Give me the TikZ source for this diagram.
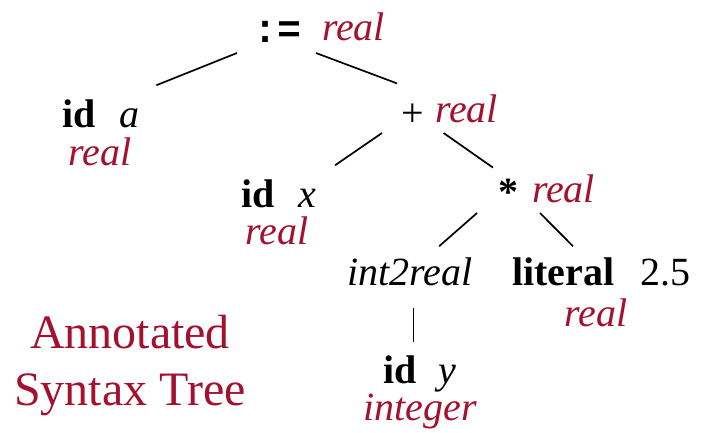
\documentclass[tikz,border=0pt]{standalone}
\usepackage{fontspec}
\setmainfont{Liberation Serif}
\setmonofont{Liberation Mono}
\usepackage{xcolor}
\usetikzlibrary{positioning}
\definecolor{TypeRed}{HTML}{A3112F}
\tikzset{
  treeNode/.style={inner sep=0pt, outer sep=0pt, anchor=base west, font=\fontsize{40pt}{44pt}\selectfont},
  typeNode/.style={treeNode, text=TypeRed, font=\fontsize{40pt}{44pt}\selectfont\itshape},
  branch/.style={draw=black, line width=1.7pt}
}
\begin{document}
\begin{tikzpicture}[x=1pt, y=-1pt]
  \useasboundingbox (0,0) rectangle (709,432);

  % Wurzel
  \node[treeNode] (assign) at (253,42) {\ttfamily\bfseries :=};
  \node[typeNode] (assignT) at (322,40) {real};

  % Ebene 1
  \node[treeNode] (ida) at (62,127) {\textbf{id}\hspace{0.6em}\textit{a}};
  \node[typeNode, anchor=base] (idaT) at (100,165) {real};
  \node[treeNode] (plus) at (401,126) {+};
  \node[typeNode] (plusT) at (435,122) {real};

  % Ebene 2
  \node[treeNode] (idx) at (241,207) {\textbf{id}\hspace{0.6em}\textit{x}};
  \node[typeNode, anchor=base] (idxT) at (277,244) {real};
  \node[treeNode] (times) at (498,205) {\textbf{*}};
  \node[typeNode] (timesT) at (532,202) {real};

  % Ebene 3
  \node[treeNode] (conv) at (347,285) {\textit{int2real}};
  \node[treeNode] (lit) at (512,285) {\textbf{literal}\hspace{0.65em}2.5};
  \node[typeNode, anchor=base] (litT) at (596,326) {real};

  % Ebene 4
  \node[treeNode] (idy) at (383,383) {\textbf{id}\hspace{0.55em}\textit{y}};
  \node[typeNode, anchor=base] (idyT) at (420,420) {integer};

  % Kanten
  \draw[branch] ([shift={(-16,11)}]assign.south west) -- ([shift={(17,-14)}]ida.north east);
  \draw[branch] ([shift={(15,11)}]assign.south east) -- ([shift={(-4,-20)}]plus.north west);
  \draw[branch] ([shift={(-19,7)}]plus.south west) -- ([shift={(19,-14)}]idx.north east);
  \draw[branch] ([shift={(20,7)}]plus.south east) -- ([shift={(-5,-11)}]times.north west);
  \draw[branch] ([shift={(-21,8)}]times.south west) -- ([shift={(-33,-11)}]conv.north east);
  \draw[branch] ([shift={(22,8)}]times.south east) -- ([shift={(61,-11)}]lit.north west);
  \draw[branch] ([shift={(4,23)}]conv.south) -- ([shift={(4,-13)}]conv.south |- idy.north);

  % Titel
  \node[treeNode, anchor=base, align=center, text=TypeRed, font=\fontsize{48pt}{57pt}\selectfont] (title) at (130,405) {Annotated\\Syntax Tree};
\end{tikzpicture}
\end{document}
